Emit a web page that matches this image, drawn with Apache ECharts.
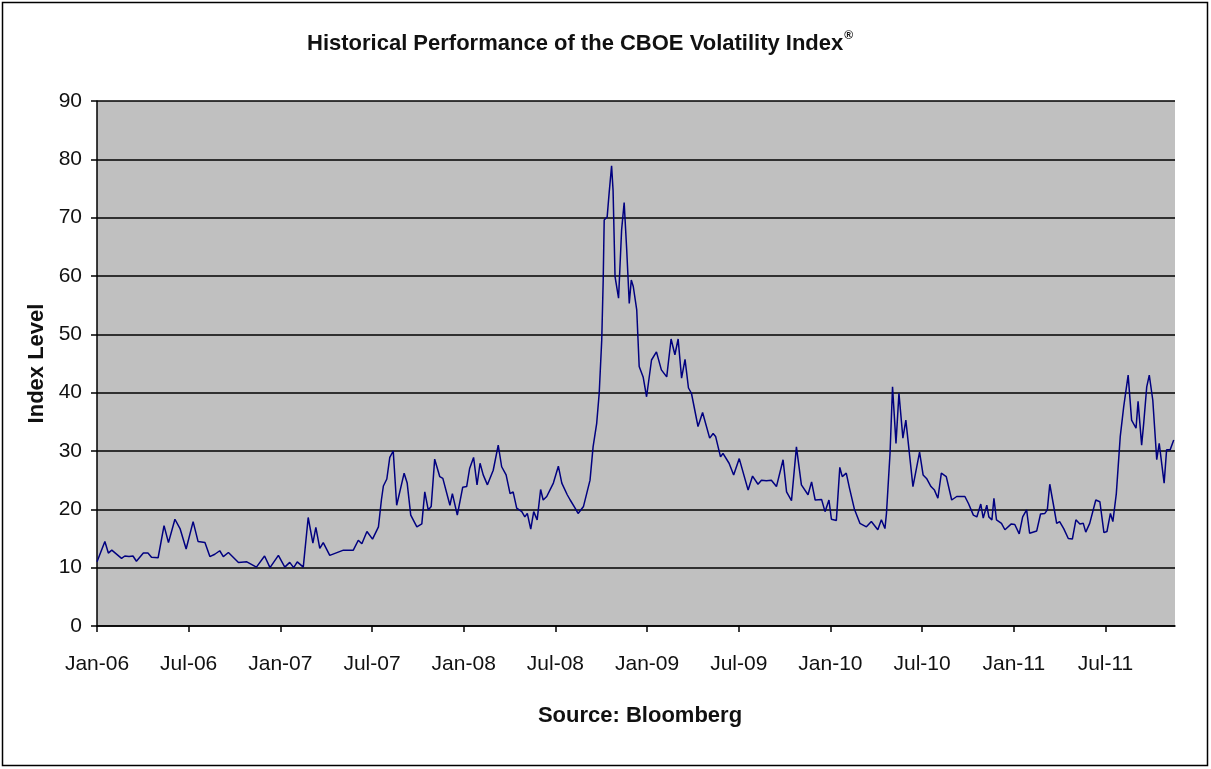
<!DOCTYPE html>
<html>
<head>
<meta charset="utf-8">
<script src="https://cdn.jsdelivr.net/npm/echarts@6/dist/echarts.min.js"></script>
<style>
  html, body { margin: 0; padding: 0; background: #fff; }
  #chart { width: 1211px; height: 769px; }
</style>
</head>
<body>
<div id="chart"></div>
<script>
// weekly-ish VIX readings
const dates = [
  '2006-01-01','2006-01-17','2006-01-24','2006-01-31','2006-02-18','2006-02-24','2006-03-04','2006-03-12','2006-03-19','2006-04-02',
  '2006-04-11','2006-04-18','2006-05-01','2006-05-13','2006-05-22','2006-06-04','2006-06-14','2006-06-26','2006-07-10','2006-07-20',
  '2006-08-03','2006-08-13','2006-08-23','2006-09-02','2006-09-09','2006-09-19','2006-10-09','2006-10-26','2006-11-14','2006-11-30',
  '2006-12-11','2006-12-28','2007-01-10','2007-01-20','2007-01-28','2007-02-04','2007-02-15','2007-02-24','2007-03-05','2007-03-11',
  '2007-03-19','2007-03-26','2007-04-08','2007-05-05','2007-05-25','2007-06-04','2007-06-11','2007-06-21','2007-07-02','2007-07-14',
  '2007-07-20','2007-07-24','2007-07-31','2007-08-06','2007-08-13','2007-08-20','2007-09-04','2007-09-10','2007-09-17','2007-09-29',
  '2007-10-09','2007-10-15','2007-10-22','2007-10-28','2007-11-04','2007-11-14','2007-11-20','2007-12-04','2007-12-09','2007-12-19',
  '2007-12-30','2008-01-07','2008-01-13','2008-01-21','2008-01-28','2008-02-03','2008-02-09','2008-02-17','2008-02-28','2008-03-09',
  '2008-03-16','2008-03-25','2008-04-02','2008-04-08','2008-04-15','2008-04-25','2008-05-01','2008-05-06','2008-05-13','2008-05-19',
  '2008-05-26','2008-06-02','2008-06-07','2008-06-14','2008-06-27','2008-07-07','2008-07-14','2008-07-25','2008-07-31','2008-08-10',
  '2008-08-16','2008-08-27','2008-09-09','2008-09-15','2008-09-22','2008-09-27','2008-10-02','2008-10-05','2008-10-07','2008-10-13',
  '2008-10-17','2008-10-22','2008-10-25','2008-10-29','2008-11-05','2008-11-11','2008-11-16','2008-11-21','2008-11-26','2008-11-30',
  '2008-12-04','2008-12-11','2008-12-16','2008-12-24','2008-12-31','2009-01-10','2009-01-20','2009-01-30','2009-02-09','2009-02-17',
  '2009-02-24','2009-03-02','2009-03-09','2009-03-16','2009-03-23','2009-03-29','2009-04-11','2009-04-20','2009-05-04','2009-05-11',
  '2009-05-16','2009-05-26','2009-05-31','2009-06-12','2009-06-21','2009-07-02','2009-07-20','2009-07-29','2009-08-09','2009-08-16',
  '2009-08-26','2009-09-05','2009-09-15','2009-09-28','2009-10-05','2009-10-15','2009-10-25','2009-11-04','2009-11-17','2009-11-24',
  '2009-12-01','2009-12-14','2009-12-21','2009-12-29','2010-01-03','2010-01-13','2010-01-20','2010-01-25','2010-02-02','2010-02-08',
  '2010-02-17','2010-02-27','2010-03-12','2010-03-22','2010-04-04','2010-04-11','2010-04-18','2010-04-21','2010-04-28','2010-05-03',
  '2010-05-10','2010-05-16','2010-05-24','2010-05-30','2010-06-13','2010-06-26','2010-07-03','2010-07-10','2010-07-19','2010-07-26',
  '2010-08-02','2010-08-09','2010-08-19','2010-08-30','2010-09-09','2010-09-25','2010-10-02','2010-10-12','2010-10-19','2010-10-27',
  '2010-11-01','2010-11-08','2010-11-12','2010-11-18','2010-11-22','2010-11-27','2010-12-07','2010-12-14','2010-12-27','2011-01-03',
  '2011-01-12','2011-01-19','2011-01-27','2011-02-02','2011-02-15','2011-02-22','2011-03-02','2011-03-07','2011-03-12','2011-03-19',
  '2011-03-26','2011-04-01','2011-04-09','2011-04-18','2011-04-26','2011-05-03','2011-05-11','2011-05-18','2011-05-23','2011-05-31',
  '2011-06-12','2011-06-20','2011-06-28','2011-07-04','2011-07-11','2011-07-16','2011-07-23','2011-07-31','2011-08-07','2011-08-16',
  '2011-08-23','2011-09-01','2011-09-05','2011-09-12','2011-09-16','2011-09-22','2011-09-27','2011-10-04','2011-10-12','2011-10-17',
  '2011-10-27','2011-11-01','2011-11-08','2011-11-15'
];
const vix = [
  11.0,14.5,12.5,13.0,11.6,12.0,11.9,12.0,11.1,12.5,
  12.5,11.8,11.7,17.2,14.3,18.3,16.7,13.2,17.9,14.5,
  14.3,11.9,12.3,12.9,11.9,12.6,10.9,11.0,10.1,12.0,
  10.0,12.1,10.1,10.9,10.0,11.0,10.1,18.6,14.2,16.9,
  13.3,14.3,12.1,13.0,13.0,14.7,14.1,16.2,14.9,17.0,
  21.6,24.0,25.2,28.9,30.0,20.7,26.2,24.5,19.0,17.0,
  17.5,23.0,19.9,20.5,28.6,25.6,25.3,20.7,22.7,19.0,
  23.8,23.9,27.0,28.9,24.2,27.9,25.9,24.2,26.7,31.0,
  27.3,25.9,22.7,23.0,20.2,19.6,18.7,19.3,16.6,19.6,
  18.2,23.4,21.6,22.2,24.5,27.4,24.5,22.5,21.6,20.2,
  19.3,20.5,25.0,30.7,34.7,39.9,49.0,59.3,69.6,70.1,
  74.2,78.9,74.7,59.9,56.2,67.9,72.6,64.5,55.3,59.3,
  58.2,54.2,44.5,42.7,39.3,45.6,47.0,43.9,42.7,49.2,
  46.5,49.2,42.5,45.7,40.8,39.9,34.2,36.6,32.2,33.0,
  32.5,29.0,29.6,27.9,25.9,28.7,23.3,25.7,24.3,25.0,
  24.9,25.0,23.9,28.5,23.0,21.5,30.7,24.2,22.5,24.7,
  21.6,21.7,19.6,21.6,18.3,18.1,27.2,25.6,26.2,23.6,
  20.0,17.6,17.0,17.9,16.5,18.2,16.7,19.3,29.6,41.0,
  31.3,39.9,32.2,35.3,23.9,29.8,25.9,25.3,23.9,23.3,
  21.9,26.2,25.6,21.6,22.2,22.2,21.0,19.0,18.7,20.9,
  18.5,20.7,18.7,18.2,21.9,18.2,17.6,16.5,17.5,17.4,
  15.8,18.7,19.9,15.9,16.3,19.2,19.3,19.9,24.3,21.0,
  17.6,17.9,16.7,15.0,14.9,18.2,17.5,17.6,16.1,17.6,
  21.6,21.3,16.0,16.2,19.3,17.9,22.7,32.5,37.6,43.0,
  35.3,33.9,38.5,31.0,34.7,41.0,43.0,38.7,28.5,31.3,
  24.5,30.2,30.2,31.9
];
const tickLabels = ['Jan-06','Jul-06','Jan-07','Jul-07','Jan-08','Jul-08','Jan-09','Jul-09','Jan-10','Jul-10','Jan-11','Jul-11'];
const tickMonths = [0, 6, 12, 18, 24, 30, 36, 42, 48, 54, 60, 66];

// months since Jan 2006, so Jan/Jul ticks fall on a plain value axis
function toMonths(s) {
  const p = s.split('-').map(Number);
  const dim = new Date(p[0], p[1], 0).getDate();
  return (p[0] - 2006) * 12 + (p[1] - 1) + (p[2] - 1) / dim;
}
const seriesData = dates.map((d, i) => [toMonths(d), vix[i]]);

const font = '"Liberation Sans", Arial, sans-serif';

const option = {
  animation: false,
  backgroundColor: '#fff',
  textStyle: { fontFamily: font },
  title: {
    text: 'Historical Performance of the CBOE Volatility Index{s|®}',
    left: 302,
    top: 25,
    textStyle: {
      fontFamily: font, fontSize: 22, fontWeight: 'bold', color: '#111',
      rich: { s: { fontFamily: font, fontSize: 12, fontWeight: 'bold', color: '#111', verticalAlign: 'top', padding: [0, 0, 15, 1] } }
    }
  },
  grid: {
    left: 97, right: 36, top: 101, bottom: 143,
    show: true, backgroundColor: '#c0c0c0', borderWidth: 0
  },
  xAxis: {
    type: 'value',
    min: 0,
    max: 70.55,
    splitLine: { show: false },
    axisLine: { lineStyle: { color: '#000', width: 1.5 } },
    axisTick: { show: true, length: 6, customValues: tickMonths, lineStyle: { color: '#000', width: 1.5 } },
    axisLabel: {
      customValues: tickMonths,
      margin: 28,
      fontFamily: font, fontSize: 21, color: '#111',
      formatter: v => tickLabels[Math.round(v / 6)]
    }
  },
  yAxis: {
    type: 'value',
    min: 0,
    max: 90,
    interval: 10,
    name: 'Index Level',
    nameLocation: 'middle',
    nameRotate: 90,
    nameGap: 44,
    nameTextStyle: { fontFamily: font, fontSize: 22, fontWeight: 'bold', color: '#111' },
    axisLine: { show: true, lineStyle: { color: '#000', width: 1.5 } },
    axisTick: { show: true, length: 6, lineStyle: { color: '#000', width: 1.5 } },
    axisLabel: { margin: 15, fontFamily: font, fontSize: 21, color: '#111' },
    splitLine: { lineStyle: { color: '#000', width: 1.6 } }
  },
  series: [{
    type: 'line',
    data: seriesData,
    showSymbol: false,
    lineStyle: { color: '#000080', width: 1.5 },
    z: 3
  }],
  graphic: [
    {
      type: 'rect',
      shape: { x: 2.5, y: 2.5, width: 1205, height: 763 },
      style: { fill: 'none', stroke: '#000', lineWidth: 1.5 },
      silent: true
    },
    {
      type: 'text',
      x: 640, y: 716,
      style: {
        text: 'Source: Bloomberg',
        fontFamily: font, fontSize: 22, fontWeight: 'bold', fill: '#111',
        textAlign: 'center', textVerticalAlign: 'middle'
      }
    }
  ]
};

echarts.init(document.getElementById('chart')).setOption(option);
</script>
</body>
</html>
